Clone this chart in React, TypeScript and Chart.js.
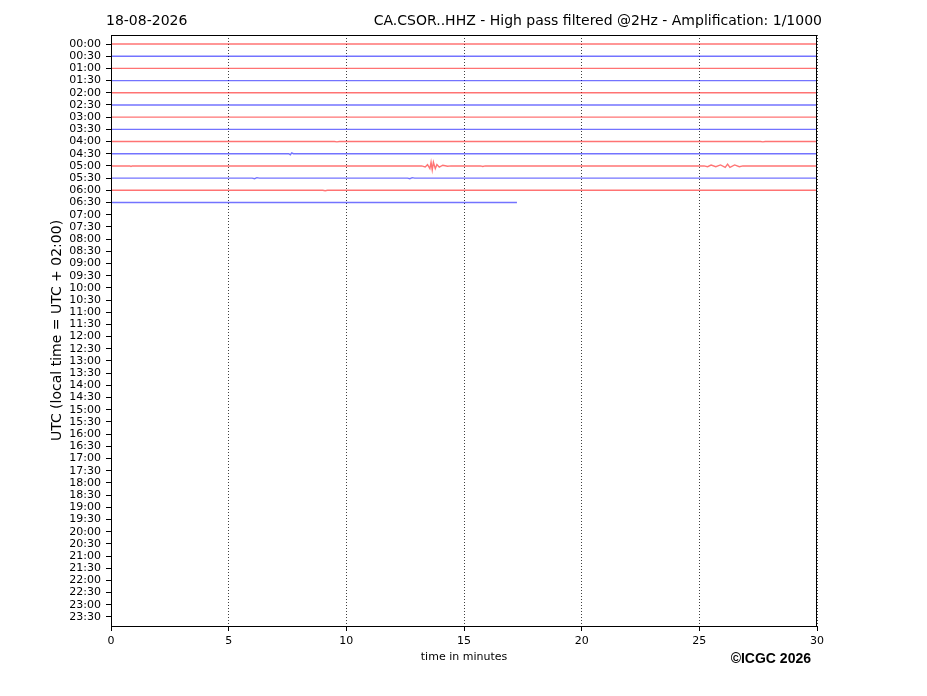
import React, { useEffect, useRef } from "react";
import { Chart, registerables } from "chart.js";

Chart.register(...registerables);

// ---- data ----
const dateLabel = "18-08-2026";
const stationTitle = "CA.CSOR..HHZ - High pass filtered @2Hz - Amplification: 1/1000";
const copyrightText = "©ICGC 2026";

const rowLabels = [
  "00:00", "00:30", "01:00", "01:30", "02:00", "02:30", "03:00", "03:30",
  "04:00", "04:30", "05:00", "05:30", "06:00", "06:30", "07:00", "07:30",
  "08:00", "08:30", "09:00", "09:30", "10:00", "10:30", "11:00", "11:30",
  "12:00", "12:30", "13:00", "13:30", "14:00", "14:30", "15:00", "15:30",
  "16:00", "16:30", "17:00", "17:30", "18:00", "18:30", "19:00", "19:30",
  "20:00", "20:30", "21:00", "21:30", "22:00", "22:30", "23:00", "23:30",
];

const minuteTicks = [0, 5, 10, 15, 20, 25, 30];

// [minute, deviation in row units]
const trace0000 = [[0, 0], [30, 0]];
const trace0030 = [[0, 0], [30, 0]];
const trace0100 = [[0, 0], [30, 0]];
const trace0130 = [[0, 0], [30, 0]];
const trace0200 = [[0, 0], [30, 0]];
const trace0230 = [[0, 0], [30, 0]];
const trace0300 = [[0, 0], [30, 0]];
const trace0330 = [[0, 0], [30, 0]];
const trace0400 = [[0, 0], [9.5, 0], [9.6, 0.03], [9.7, 0], [27.6, 0], [27.7, 0.03], [27.8, 0], [30, 0]];
const trace0430 = [[0, 0], [7.55, 0], [7.62, 0.08], [7.68, -0.07], [7.75, 0], [30, 0]];
const trace0500 = [
  [0, 0], [0.8, 0], [0.85, 0.04], [0.9, 0],
  [13.2, 0], [13.35, 0.08], [13.45, -0.1], [13.55, 0.22], [13.6, -0.3], [13.65, 0.33],
  [13.7, -0.3], [13.78, 0.22], [13.85, -0.12], [13.95, 0.1], [14.1, -0.06], [14.3, 0.03], [14.45, 0],
  [15.7, 0], [15.8, 0.04], [15.9, 0],
  [25.2, 0], [25.35, 0.06], [25.5, -0.07], [25.7, 0.06], [25.9, -0.08], [26.1, 0.12],
  [26.2, -0.15], [26.3, 0.12], [26.5, -0.08], [26.7, 0.06], [26.85, 0], [30, 0],
];
const trace0530 = [[0, 0], [6.0, 0], [6.1, 0.05], [6.2, -0.04], [6.3, 0], [12.6, 0], [12.7, 0.05], [12.8, -0.04], [12.9, 0], [30, 0]];
const trace0600 = [[0, 0], [9.0, 0], [9.1, 0.03], [9.2, 0], [30, 0]];
const trace0630 = [[0, 0], [17.25, 0]];

const traceStarts = ["00:00", "00:30", "01:00", "01:30", "02:00", "02:30", "03:00", "03:30", "04:00", "04:30", "05:00", "05:30", "06:00", "06:30"];
const traceValues = [trace0000, trace0030, trace0100, trace0130, trace0200, trace0230, trace0300, trace0330, trace0400, trace0430, trace0500, trace0530, trace0600, trace0630];

// ---- styles ----
const RED = "rgba(255,0,0,0.55)";
const BLUE = "rgba(0,0,255,0.55)";

const textPlugin = {
  id: "helicorderText",
  afterDraw(chart: any) {
    const { ctx, chartArea } = chart;
    ctx.save();
    ctx.strokeStyle = "#000";
    ctx.lineWidth = 1;
    ctx.strokeRect(
      Math.round(chartArea.left) + 0.5,
      Math.round(chartArea.top) + 0.5,
      Math.round(chartArea.right - chartArea.left) - 1,
      Math.round(chartArea.bottom - chartArea.top)
    );
    ctx.fillStyle = "#000";
    ctx.textBaseline = "middle";
    ctx.font = "14px 'DejaVu Sans'";
    ctx.textAlign = "left";
    ctx.fillText(dateLabel, 106, 21);
    ctx.textAlign = "right";
    ctx.fillText(stationTitle, 822, 21);
    ctx.font = "bold 14px 'Liberation Sans'";
    ctx.fillText(copyrightText, 811, 659);
    ctx.restore();
  },
};

export default function App() {
  const canvasRef = useRef<HTMLCanvasElement | null>(null);

  useEffect(() => {
    const canvas = canvasRef.current;
    if (!canvas) return;
    Chart.defaults.font.family = "'DejaVu Sans'";
    Chart.defaults.color = "#000";

    const datasets = traceValues.map((pts, i) => {
      const row = rowLabels.indexOf(traceStarts[i]);
      return {
        label: traceStarts[i],
        data: pts.map(([m, d]) => ({ x: m, y: row + d })),
        borderColor: row % 2 === 0 ? RED : BLUE,
        borderWidth: 1.4,
        pointRadius: 0,
        tension: 0,
        fill: false,
      };
    });

    const chart = new Chart(canvas, {
      type: "line",
      data: { datasets },
      options: {
        animation: false,
        responsive: false,
        devicePixelRatio: 1,
        layout: { padding: { left: 0, top: 35, right: 110, bottom: 0 } },
        plugins: {
          legend: { display: false },
          tooltip: { enabled: false },
          title: { display: false },
        },
        scales: {
          x: {
            type: "linear",
            min: 0,
            max: 30,
            afterBuildTicks: (s: any) => {
              s.ticks = minuteTicks.map((v) => ({ value: v }));
            },
            ticks: { font: { size: 11 }, color: "#000", padding: 4, maxRotation: 0 },
            grid: {
              color: "rgba(0,0,0,0.75)",
              lineWidth: 1,
              drawOnChartArea: true,
              drawTicks: true,
              tickLength: 5,
              tickColor: "#000",
              tickWidth: 1,
              tickBorderDash: [],
            },
            border: { display: true, color: "#000", width: 1, dash: [1, 2] },
            title: {
              display: true,
              text: "time in minutes",
              font: { size: 11 },
              color: "#000",
              padding: { top: 0, bottom: 32 },
            },
            afterFit: (s: any) => {
              s.height = 70;
            },
          },
          y: {
            type: "linear",
            reverse: true,
            min: -0.74,
            max: 47.74,
            afterBuildTicks: (s: any) => {
              s.ticks = rowLabels.map((_, i) => ({ value: i }));
            },
            ticks: {
              autoSkip: false,
              font: { size: 11 },
              color: "#000",
              padding: 5,
              callback: (v: any) => rowLabels[Math.round(Number(v))] ?? "",
            },
            grid: {
              drawOnChartArea: false,
              drawTicks: true,
              tickLength: 5,
              tickColor: "#000",
              tickWidth: 1,
            },
            border: { display: true, color: "#000", width: 1 },
            title: {
              display: true,
              text: "UTC (local time = UTC + 02:00)",
              font: { size: 14 },
              color: "#000",
              padding: { top: 49, bottom: 0 },
            },
            afterFit: (s: any) => {
              s.width = 111;
            },
          },
        },
      },
      plugins: [textPlugin],
    });

    return () => chart.destroy();
  }, []);

  return (
    <div style={{ position: "fixed", left: 0, top: 0, width: 927, height: 696, background: "#fff" }}>
      <canvas ref={canvasRef} width={927} height={696} style={{ width: 927, height: 696, display: "block" }} />
    </div>
  );
}
